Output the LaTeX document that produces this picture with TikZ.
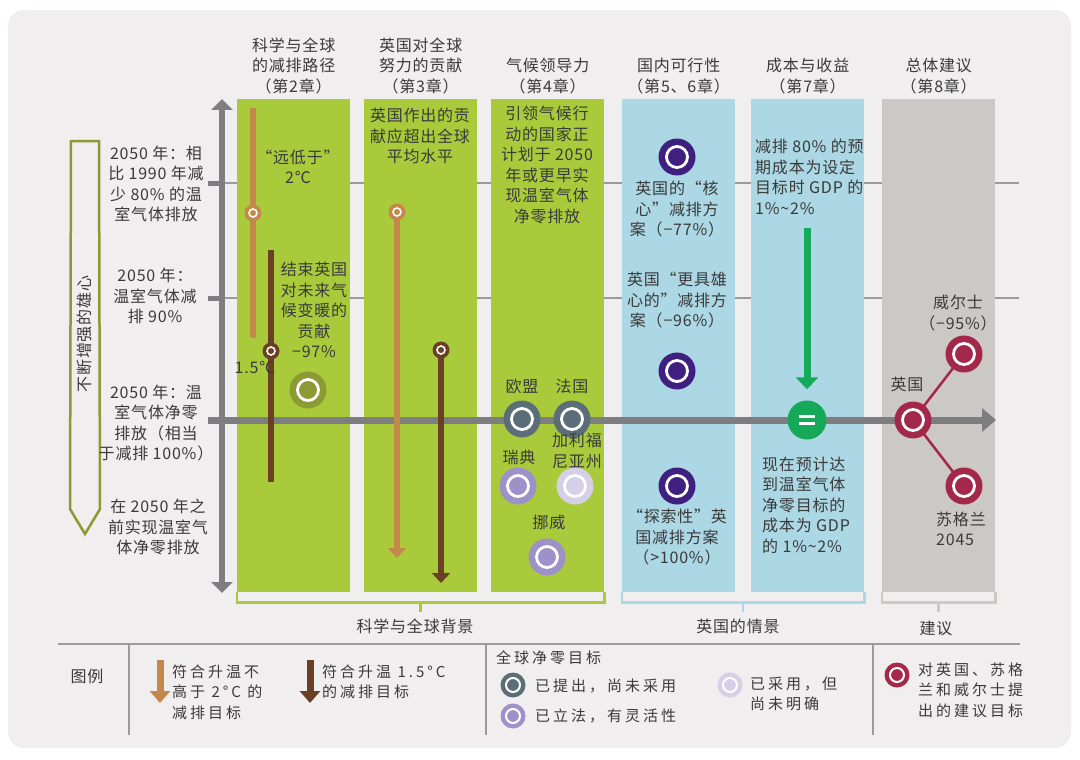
\documentclass[tikz,border=0pt]{standalone}
\usepackage{fontspec}
\setmainfont{Noto Sans CJK SC}[LetterSpace=5]
\usetikzlibrary{arrows.meta, positioning, calc}

\definecolor{bgc}{HTML}{F0EEEF}
\definecolor{scigreen}{HTML}{A9CB3B}
\definecolor{ukblue}{HTML}{ACD7E4}
\definecolor{recgray}{HTML}{CCC8C5}
\definecolor{axisgray}{HTML}{7E7E80}
\definecolor{thingray}{HTML}{9A9A9A}
\definecolor{tanc}{HTML}{C2894A}
\definecolor{brownc}{HTML}{6B3F24}
\definecolor{olivec}{HTML}{8C9A34}
\definecolor{slatec}{HTML}{5B6E77}
\definecolor{lavc}{HTML}{9C92C9}
\definecolor{palec}{HTML}{D5D0E7}
\definecolor{indigoc}{HTML}{3F2080}
\definecolor{eqgreen}{HTML}{17A95A}
\definecolor{crimsonc}{HTML}{A4284A}
\definecolor{textc}{HTML}{3A3A3A}

\newcommand{\txtsize}{\fontsize{16}{20.5}\selectfont}
\newcommand{\legsize}{\fontsize{15}{20.5}\selectfont\addfontfeature{LetterSpace=20}}

\begin{document}
\begin{tikzpicture}[x=1pt, y=-1pt,
  every node/.style={text=textc, font=\txtsize, inner sep=0pt},
  colbox/.style={anchor=north west, minimum width=113pt, minimum height=493pt, fill=#1},
  head/.style={align=center, above=5pt of #1},
  note/.style={align=center},
  leftnote/.style={align=left, anchor=west},
  legfont/.style={font=\legsize},
  thinline/.style={draw=thingray, line width=1.4pt},
  tickline/.style={draw=axisgray, line width=5pt},
  axisline/.style={draw=axisgray, line width=6pt, {Triangle[width=21pt,length=11pt]}-{Triangle[width=21pt,length=11pt]}},
  mainline/.style={draw=axisgray, line width=7pt, -{Triangle[width=23pt,length=14pt]}},
  bar/.style={draw=#1, line width=6pt},
  bararrow/.style={draw=#1, line width=6pt, -{Triangle[width=18pt,length=10pt]}},
  greenarrow/.style={draw=eqgreen, line width=7pt, shorten >=11pt, -{Triangle[width=22pt,length=12pt]}},
  legarrow/.style={draw=#1, line width=7pt, -{Triangle[width=20pt,length=12pt]}},
  redlink/.style={draw=crimsonc, line width=2.5pt},
  bracket/.style={draw=#1, line width=2.5pt},
  legline/.style={draw=thingray, line width=1.3pt},
  marker/.style={circle, fill=#1, minimum size=17pt,
    path picture={\draw[white, line width=1.6pt] (path picture bounding box.center) circle (4pt);}},
  bigdot/.style={circle, fill=#1, minimum size=37pt,
    path picture={\draw[white, line width=2.8pt] (path picture bounding box.center) circle (10.5pt);}},
  legdot/.style={circle, fill=#1, minimum size=25pt,
    path picture={\draw[white, line width=2pt] (path picture bounding box.center) circle (7pt);}},
  eqdot/.style={circle, fill=eqgreen, minimum size=39pt,
    path picture={\draw[white, line width=3pt] ([xshift=-8pt,yshift=3.5pt]path picture bounding box.center) -- ++(16pt,0pt);
                  \draw[white, line width=3pt] ([xshift=-8pt,yshift=-3.5pt]path picture bounding box.center) -- ++(16pt,0pt);}}
]
% page and panel
\fill[white] (0,0) rectangle (1080,760);
\fill[bgc, rounded corners=16pt] (8,10) rectangle (1071,748);
\useasboundingbox (0,0) rectangle (1080,760);

% level lines
\draw[thinline] (222,183) -- (1019,183);
\draw[thinline] (222,298) -- (1019,298);
\draw[tickline] (208,183) -- (222,183);
\draw[tickline] (208,298) -- (222,298);

% chapter columns
\node[colbox=scigreen] (box1) at (237,99) {};
\node[colbox=scigreen] (box2) at (364,99) {};
\node[colbox=scigreen] (box3) at (491,99) {};
\node[colbox=ukblue] (box4) at (622,99) {};
\node[colbox=ukblue] (box5) at (751,99) {};
\node[colbox=recgray] (box6) at (882,99) {};

\node[head=box1] (head1) {科学与全球\\的减排路径\\（第2章）};
\node[head=box2] (head2) {英国对全球\\努力的贡献\\（第3章）};
\node[head=box3] (head3) {气候领导力\\（第4章）};
\node[head=box4] (head4) {国内可行性\\（第5、6章）};
\node[head=box5] (head5) {成本与收益\\（第7章）};
\node[head=box6] (head6) {总体建议\\（第8章）};

% axes
\coordinate (hstart) at (208,420);
\coordinate (hend) at (996,420);
\draw[mainline] (hstart) -- (hend);
\coordinate (axtop) at (222,99);
\coordinate (axbot) at (222,593);
\draw[axisline] (axbot) -- (axtop);

% ambition arrow and levels
\draw[draw=olivec, line width=2.5pt] (71,141) -- (99,141) -- (100,509) -- (85,534) -- (70,509) -- cycle;
\node[rotate=90] (ambition) at (84,334) {不断增强的雄心};

\node[note] (lvl1) at (156,184) {2050 年：相\\比 1990 年减\\少 80\% 的温\\室气体排放};
\node[note] (lvl2) at (155,296) {2050 年：\\温室气体减\\排 90\%};
\node[note] (lvl3) at (156,423) {2050 年：温\\室气体净零\\排放（相当\\于减排 100\%）};
\node[note] (lvl4) at (158,527) {在 2050 年之\\前实现温室气\\体净零排放};

% column 1
\coordinate (tan1top) at (253,108);
\coordinate (tan1bot) at (253,338);
\draw[bar=tanc] (tan1top) -- (tan1bot);
\coordinate (brn1top) at (271,250);
\coordinate (brn1bot) at (271,482);
\draw[bar=brownc] (brn1top) -- (brn1bot);
\node[marker=tanc] (tan1) at (253,213) {};
\node[marker=brownc] (brn1) at (271,351) {};
\node[note] (well2) at (298,167) {“远低于”\\2℃};
\node[note] (end97) at (314,310) {结束英国\\对未来气\\候变暖的\\贡献\\−97\%};
\node (c15) at (255,367) {1.5℃};
\node[bigdot=olivec] (ukpart) at (308,390) {};

% column 2
\node[note] (exceed) at (420,136) {英国作出的贡\\献应超出全球\\平均水平};
\coordinate (tan2start) at (397,212);
\coordinate (tan2end) at (397,558);
\coordinate (brn2start) at (441,350);
\coordinate (brn2end) at (441,583);
\draw[bararrow=tanc] (tan2start) -- (tan2end);
\draw[bararrow=brownc] (brn2start) -- (brn2end);
\node[marker=tanc] (tan2) at (tan2start) {};
\node[marker=brownc] (brn2) at (brn2start) {};

% column 3
\node[note] (leaders) at (547,165) {引领气候行\\动的国家正\\计划于 2050\\年或更早实\\现温室气体\\净零排放};
\node[bigdot=slatec] (eu) at (522,419) {};
\node[bigdot=slatec] (fr) at (572,419) {};
\node (eulbl) at (522,386) {欧盟};
\node (frlbl) at (572,386) {法国};
\node[bigdot=lavc] (se) at (518,486) {};
\node (selbl) at (519,457) {瑞典};
\node[bigdot=palec] (ca) at (575,486) {};
\node[note] (calbl) at (577,451) {加利福\\尼亚州};
\node[bigdot=lavc] (nor) at (547,557) {};
\node (norlbl) at (549,522) {挪威};

% column 4
\node[bigdot=indigoc] (core) at (677,157) {};
\node[note] (corelbl) at (677,209) {英国的“核\\心”减排方\\案（−77\%）};
\node[note] (ambitlbl) at (677,300) {英国“更具雄\\心的”减排方\\案（−96\%）};
\node[bigdot=indigoc] (ambit) at (677,371) {};
\node[bigdot=indigoc] (explore) at (677,486) {};
\node[note] (explorelbl) at (677,537) {“探索性”英\\国减排方案\\（>100\%）};

% column 5
\node[leftnote] (costold) at (755,177) {减排 80\% 的预\\期成本为设定\\目标时 GDP 的\\1\%\textasciitilde 2\%};
\coordinate (costtop) at (807,228);
\node[eqdot] (eq) at (807,420) {};
\draw[greenarrow] (costtop) -- (eq);
\node[leftnote] (costnew) at (762,505) {现在预计达\\到温室气体\\净零目标的\\成本为 GDP\\的 1\%\textasciitilde 2\%};

% column 6
\draw[redlink] (913,420) -- (964,354);
\draw[redlink] (913,420) -- (964,486);
\node[bigdot=crimsonc] (uk) at (913,420) {};
\node[bigdot=crimsonc] (wales) at (964,354) {};
\node[bigdot=crimsonc] (scot) at (964,486) {};
\node (uklbl) at (907,384) {英国};
\node[note] (waleslbl) at (958,313) {威尔士\\（−95\%）};
\node[leftnote] (scotlbl) at (936,529) {苏格兰\\2045};

% brackets
\draw[bracket=scigreen] (box1.south west) -- ++(0,10) -| (box3.south east);
\draw[bracket=scigreen] ($(box1.south west)!0.5!(box3.south east)$) ++(0,10) -- ++(0,10);
\draw[bracket=ukblue] (box4.south west) -- ++(0,10) -| (box5.south east);
\draw[bracket=ukblue] ($(box4.south west)!0.5!(box5.south east)$) ++(0,10) -- ++(0,10);
\draw[bracket=recgray] (box6.south west) -- ++(0,10) -| (box6.south east);
\draw[bracket=recgray] (box6.south) ++(0,10) -- ++(0,10);
\node (scilbl) at (415,626) {科学与全球背景};
\node (ukscene) at (738,626) {英国的情景};
\node (reclbl) at (936,628) {建议};

% legend
\draw[legline] (58,644) -- (1020,644);
\draw[legline] (129,644) -- (129,735);
\draw[legline] (486,644) -- (486,735);
\draw[legline] (873,644) -- (873,735);
\node (legtitle) at (87,676) {图例};
\draw[legarrow=tanc] (160,660) -- (160,703);
\node[leftnote, legfont] (leg2c) at (172,692) {符合升温不\\高于 2°C 的\\减排目标};
\draw[legarrow=brownc] (310,660) -- (310,703);
\node[leftnote, legfont] (leg15c) at (322,682) {符合升温 1.5°C\\的减排目标};
\node[leftnote, legfont] (legnet) at (496,658) {全球净零目标};
\node[legdot=slatec] (legprop) at (513,685) {};
\node[leftnote, legfont] (legproplbl) at (535,686) {已提出，尚未采用};
\node[legdot=lavc] (leglaw) at (513,716) {};
\node[leftnote, legfont] (leglawlbl) at (535,716) {已立法，有灵活性};
\node[legdot=palec] (legadopt) at (730,685) {};
\node[leftnote, legfont] (legadoptlbl) at (750,694) {已采用，但\\尚未明确};
\node[legdot=crimsonc] (legrec) at (897,675) {};
\node[leftnote, legfont] (legreclbl) at (918,690) {对英国、苏格\\兰和威尔士提\\出的建议目标};
\end{tikzpicture}
\end{document}
